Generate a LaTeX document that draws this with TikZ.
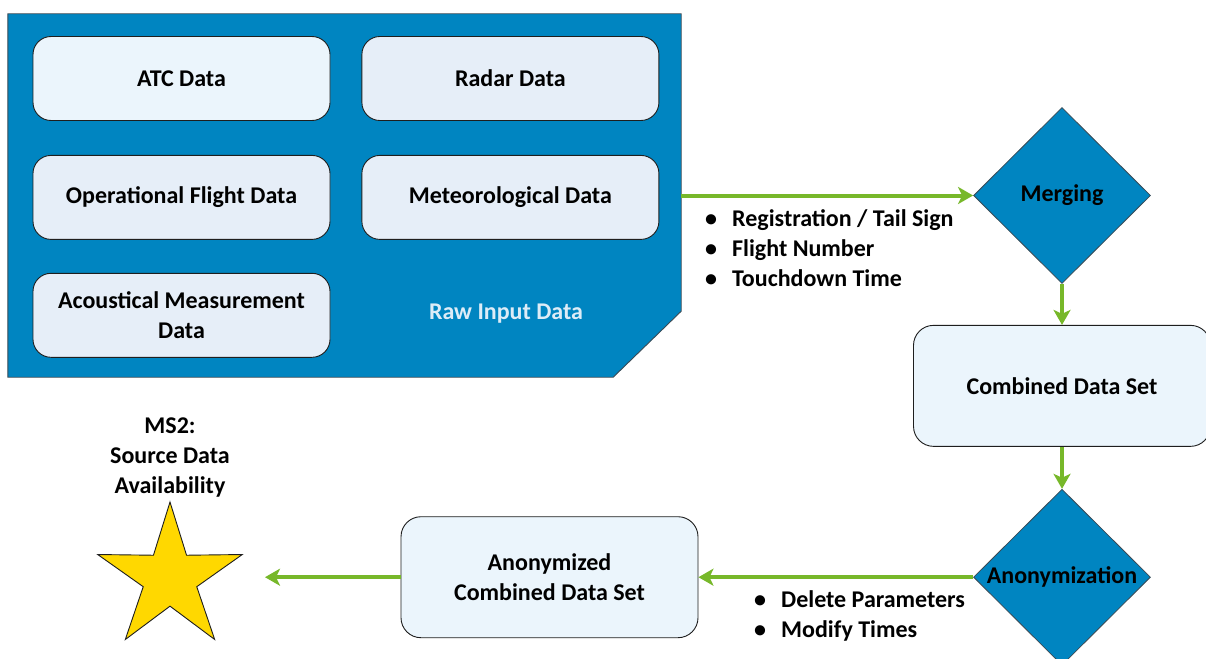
\documentclass[tikz,border=0pt]{standalone}
\usepackage{fontspec}
\setmainfont{Carlito}
\usepackage{xcolor}
\usetikzlibrary{shapes.geometric,arrows.meta,positioning}

\definecolor{rawblue}{HTML}{0085C1}
\definecolor{rawedge}{HTML}{3A4A55}
\definecolor{rawtext}{HTML}{DDECF7}
\definecolor{boxlight}{HTML}{EBF5FC}
\definecolor{boxgray}{HTML}{E6EEF8}
\definecolor{boxline}{HTML}{1E1E1E}
\definecolor{flowgreen}{HTML}{77B82A}
\definecolor{stargold}{HTML}{FFD800}

\begin{document}
\begin{tikzpicture}[
        x=1pt, y=-1pt,
        font=\fontsize{24}{30}\selectfont\bfseries,
        datablock/.style={rectangle, rounded corners=18pt, draw=boxline, line width=0.9pt, fill=boxgray, minimum width=297pt, minimum height=84pt, align=center, inner sep=0pt},
        setblock/.style={datablock, fill=boxlight, minimum height=121pt, rounded corners=20pt},
        decision/.style={diamond, draw=rawedge, line width=0.8pt, fill=rawblue, inner sep=0pt, minimum width=177pt, minimum height=176pt},
        flow/.style={line width=4pt, draw=flowgreen, -{Stealth[length=15pt, width=17pt, inset=4pt]}},
        keylist/.style={align=left, inner sep=0pt, anchor=west}
    ]
        \clip (0,0) rectangle (1206,658);
        \fill[white] (0,0) rectangle (1206,658);

        % Raw input container
        \node[minimum width=673pt, minimum height=363pt, inner sep=0pt] (raw) at (344.5,195.5) {};
        \draw[fill=rawblue, draw=rawedge, line width=0.9pt] (raw.north west) -- (raw.north east)
            -- ([yshift=66pt]raw.south east) -- ([xshift=-68pt]raw.south east) -- (raw.south west) -- cycle;

        % Source data
        \node[datablock, fill=boxlight] (atc) at (181.5,78.5) {ATC Data};
        \node[datablock, right=31pt of atc] (radar) {Radar Data};
        \node[datablock, below=34pt of atc] (ofd) {Operational Flight Data};
        \node[datablock, right=31pt of ofd] (met) {Meteorological Data};
        \node[datablock, below=33pt of ofd] (acoustic) {Acoustical Measurement\\Data};
        \node[text=rawtext] (rawlabel) at (506,314) {Raw Input Data};

        % Merging
        \node[decision, label={center:Merging}] (merge) at (1062,195.5) {};
        \node[keylist] (mergekeys) at (705,248) {\textbullet\hspace{15pt}Registration / Tail Sign\\
            \textbullet\hspace{15pt}Flight Number\\\textbullet\hspace{15pt}Touchdown Time};

        % Combined data
        \node[setblock, below=41pt of merge] (combined) {Combined Data Set};

        % Anonymization
        \node[decision, below=42pt of combined, label={center:Anonymization}] (anon) {};
        \node[keylist] (anonkeys) at (754,616) {\textbullet\hspace{15pt}Delete Parameters\\
            \textbullet\hspace{15pt}Modify Times};
        \node[setblock] (anonset) at (anon -| 549.5,0) {Anonymized\\Combined Data Set};

        % Milestone
        \node[star, star points=5, star point ratio=2.7, minimum size=152pt, inner sep=0pt,
            draw=boxline, line width=0.9pt, fill=stargold] (ms2) at (170,578) {};
        \node[align=center, above=0pt of ms2] (ms2label) {MS2:\\Source Data\\Availability};
        \coordinate (ms2end) at (anon -| 265,0);

        % Connections
        \draw[flow] (raw.east) -- (merge.west);
        \draw[flow] (merge.south) -- (combined.north);
        \draw[flow] (combined.south) -- (anon.north);
        \draw[flow] (anon.west) -- (anonset.east);
        \draw[flow] (anonset.west) -- (ms2end);
    \end{tikzpicture}
\end{document}
